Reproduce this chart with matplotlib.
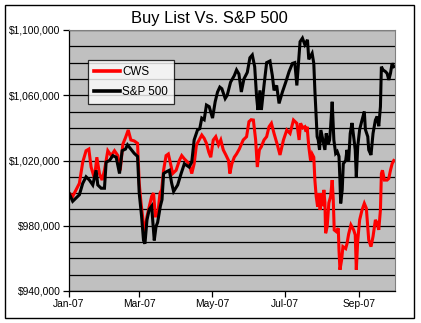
import matplotlib
matplotlib.use("Agg")
import matplotlib.pyplot as plt
import matplotlib.dates as mdates
from matplotlib.ticker import FuncFormatter, MultipleLocator
from matplotlib.patches import Rectangle
import pandas as pd

plt.rcParams['font.family'] = ['Liberation Sans', 'DejaVu Sans']

title = "Buy List Vs. S&P 500"
series_names = ["CWS", "S&P 500"]
start_date = "2007-01-01"
end_date = "2007-10-01"
tick_dates = ["2007-01-01", "2007-03-01", "2007-05-01", "2007-07-01", "2007-09-01"]
y_ticks = [940000, 980000, 1020000, 1060000, 1100000]

# days since Jan 1 2007, values in $ thousands
cws_days = [0, 3.1, 5.9, 8.7, 11.5, 14.3, 16.6, 18.5, 21.3, 23.3, 25.5, 27.7, 29.7, 32.5, 35.3, 38.1,
            40.9, 42.9, 45.1, 47.3, 49.6, 51.8, 54.6, 57.4, 58.8, 60.3, 62.2, 63.6, 65.3, 67.2, 69.2,
            70.8, 72.3, 74.2, 76.2, 77.6, 79.2, 81.3, 83.2, 84.9, 86.8, 89.7, 92.4, 94.4, 96.6, 100.6,
            102.8, 104.8, 106.7, 109.0, 111.2, 113.2, 115.1, 117.1, 118.7, 120.8, 122.9, 125.2, 127.1,
            129.2, 131.3, 133.6, 134.7, 136.4, 138.4, 140.3, 142.6, 145.9, 148.7, 150.7, 152.5, 154.4,
            156.3, 157.7, 159.4, 161.1, 163.3, 165.5, 167.5, 169.5, 171.7, 174.5, 176.7, 179.6, 182.4,
            185.1, 188.0, 190.8, 192.7, 193.9, 195.8, 197.5, 198.6, 199.4, 200.8, 202.3, 203.6, 205.0,
            205.9, 207.0, 208.2, 209.2, 210.3, 211.5, 212.6, 213.4, 214.3, 214.9, 216.2, 217.6, 219.1,
            220.4, 221.3, 222.1, 223.8, 225.5, 226.1, 226.9, 228.3, 229.4, 231.7, 232.8, 234.2, 236.1,
            238.4, 239.7, 240.6, 241.8, 243.4, 245.4, 247.3, 249.0, 251.0, 252.9, 254.6, 256.6, 258.0,
            259.4, 260.8, 261.6, 262.5, 264.1, 266.4, 267.8, 269.2, 270.6, 272.0]
cws_vals = [1000, 998, 1002, 1006, 1019, 1026, 1027, 1016, 1009, 1022, 1012, 1008, 1014, 1026, 1023, 1026,
            1023, 1014, 1030, 1034, 1038.7, 1032.6, 1032, 1030.5, 1006, 994, 982, 976, 985.6, 991.7, 998,
            1000, 986, 986, 1000, 1002, 1014, 1023, 1024, 1018.5, 1012, 1014, 1020, 1023, 1021, 1018,
            1012, 1018, 1029.5, 1032.6, 1035.6, 1033.6, 1030.5, 1025, 1022, 1032.6, 1034.6, 1029.6, 1032.6,
            1026.5, 1023.5, 1020, 1012, 1018, 1022, 1024, 1027, 1032.6, 1034.6, 1043.8, 1045, 1044.8,
            1032.6, 1016, 1026.5, 1028.5, 1032.6, 1034.6, 1040.7, 1042.8, 1036.6, 1029.5, 1023.4, 1032.6, 1038.7,
            1036.6, 1044.8, 1042.8, 1032.6, 1042.8, 1040, 1040.7, 1037.6, 1040.7, 1028.5, 1020, 1024, 1022,
            1008, 998, 991.7, 1000, 989.7, 1000, 992, 1002, 994, 975.4, 979.5, 994, 998,
            1008, 996, 977.4, 976.4, 978.5, 965, 953, 959, 967.2, 966, 969, 975, 980.5,
            977.4, 974.4, 953, 971, 983.6, 989.7, 993.7, 990.7, 971.3, 967.2, 973.4, 983.6, 981.6,
            977.5, 989.7, 1012, 1014, 1008, 1008, 1009, 1014, 1018, 1020]

sp_days = [0, 3.1, 5.9, 8.7, 11.5, 14.3, 17.1, 19.9, 22.7, 24.1, 26.9, 29.7, 31.1, 33.9, 36.7, 39.5,
           42.3, 44.5, 47.3, 49.0, 51.3, 54.6, 57.4, 58.8, 60.8, 62.4, 63.6, 65.3, 67.2, 69.2, 71.4,
           72.9, 74.2, 76.5, 77.9, 79.2, 81.3, 84.0, 86.0, 87.6, 91.0, 93.9, 96.6, 100.6, 102.8, 104.8,
           107.6, 109.5, 111.2, 113.2, 115.1, 117.4, 120.2, 122.4, 124.4, 126.3, 128.0, 130.8, 132.5,
           135.3, 138.4, 140.3, 142.3, 144.3, 146.5, 149.3, 151.5, 153.5, 155.5, 157.1, 158.2, 159.9,
           161.1, 163.3, 165.5, 168.3, 170.3, 171.7, 173.9, 175.9, 178.7, 181.5, 184.3, 187.1, 189.1,
           190.8, 193.5, 195.5, 197.5, 199.7, 200.8, 203.6, 205.0, 205.9, 207.0, 207.8, 208.7, 209.8,
           210.9, 212.6, 214.3, 215.4, 217.1, 218.2, 219.1, 220.4, 221.8, 223.3, 224.6, 226.1, 226.9,
           227.5, 228.8, 229.7, 231.7, 232.8, 234.2, 235.5, 237.0, 238.4, 239.7, 240.6, 241.8, 243.4,
           245.4, 247.3, 248.2, 250.2, 251.0, 252.9, 254.6, 256.6, 258.0, 259.4, 260.8, 261.6, 263.0,
           265.0, 266.4, 267.8, 269.2, 270.6, 272.0]
sp_vals = [1000, 995, 997, 999, 1006, 1010, 1008, 1005, 1014, 1005, 1003, 1003, 1019, 1020, 1023, 1022,
           1012, 1026, 1027, 1029.6, 1027.5, 1024.4, 1022.5, 1000, 985.6, 971, 969, 983.6, 990, 992, 971,
           979.6, 982, 992, 996, 1012, 1013, 1014, 1006, 1001, 1005, 1012, 1018, 1016, 1019, 1032.6,
           1038.7, 1039.5, 1046, 1045, 1054, 1053, 1046, 1056, 1062, 1065, 1064, 1058, 1060,
           1068, 1072, 1075.5, 1073, 1062, 1070, 1074, 1083, 1084.7, 1077.5, 1059, 1051, 1063,
           1051, 1066, 1080, 1081, 1072, 1063, 1066, 1055, 1062, 1068, 1074.5, 1079.5, 1080,
           1066, 1092.8, 1095, 1091, 1094, 1082, 1085.7, 1079.5, 1063, 1047, 1034.6, 1032.6, 1026.5,
           1038.7, 1032.6, 1026.5, 1036.6, 1030, 1032.6, 1040.7, 1056, 1032.6, 1024.4, 1025.5, 1022.5, 1008,
           993.7, 1002, 1018, 1020, 1026.5, 1020, 1036.6, 1043, 1034.6, 1026.5, 1010, 1028.6, 1039,
           1044.8, 1050, 1039, 1034.6, 1026.5, 1023.4, 1036.6, 1044.8, 1047, 1041, 1053, 1077.5, 1075.5,
           1074.5, 1073.4, 1069.4, 1073.4, 1079.6, 1077.5]

W, H = 421, 323
fig = plt.figure(figsize=(W / 100, H / 100), dpi=100)
fig.patch.set_facecolor("white")
fig.patches.append(Rectangle((5 / W, 1 - 318 / H), 409 / W, 313 / H, transform=fig.transFigure,
                             fill=False, edgecolor="black", linewidth=1.0))

ax = fig.add_axes([69 / W, 1 - 291 / H, 326 / W, 261 / H])
ax.set_facecolor("#C0C0C0")

base = pd.Timestamp(start_date)
cws_x = [base + pd.Timedelta(days=d) for d in cws_days]
sp_x = [base + pd.Timedelta(days=d) for d in sp_days]
ax.plot(cws_x, [v * 1000 for v in cws_vals], color="#FF0000", lw=2.2, label=series_names[0],
        solid_joinstyle="miter")
ax.plot(sp_x, [v * 1000 for v in sp_vals], color="black", lw=2.2, label=series_names[1],
        solid_joinstyle="miter")

ax.set_xlim(pd.Timestamp(start_date), pd.Timestamp(end_date))
ax.set_ylim(y_ticks[0], y_ticks[-1])
ax.set_yticks(y_ticks)
ax.yaxis.set_minor_locator(MultipleLocator(10000))
ax.yaxis.set_major_formatter(FuncFormatter(lambda v, p: "${:,.0f}".format(v)))
ax.grid(True, which="both", axis="y", color="black", lw=0.9)
ax.set_axisbelow(True)
ax.tick_params(axis="y", which="minor", length=0)
ax.set_xticks([pd.Timestamp(t) for t in tick_dates])
ax.xaxis.set_major_formatter(mdates.DateFormatter("%b-%y"))
ax.tick_params(axis="both", which="major", direction="out", length=4, width=0.9,
               labelsize=7.4, pad=2, colors="black")
for s in ("top", "right"):
    ax.spines[s].set_color("#808080")
for s in ("left", "bottom"):
    ax.spines[s].set_color("black")
    ax.spines[s].set_linewidth(0.9)

fig.text(209 / W, 1 - 19 / H, title, ha="center", va="center", fontsize=11.9)

leg = ax.legend(loc="upper left", bbox_to_anchor=(88 / W, 1 - 60 / H), bbox_transform=fig.transFigure,
                borderaxespad=0, frameon=True, fancybox=False, fontsize=8.4, handlelength=2.2,
                handletextpad=0.25, labelspacing=0.7, borderpad=0.5)
leg.get_frame().set_edgecolor("black")
leg.get_frame().set_linewidth(0.9)
for line in leg.get_lines():
    line.set_linewidth(2.6)

fig.savefig("out.png", dpi=100)
